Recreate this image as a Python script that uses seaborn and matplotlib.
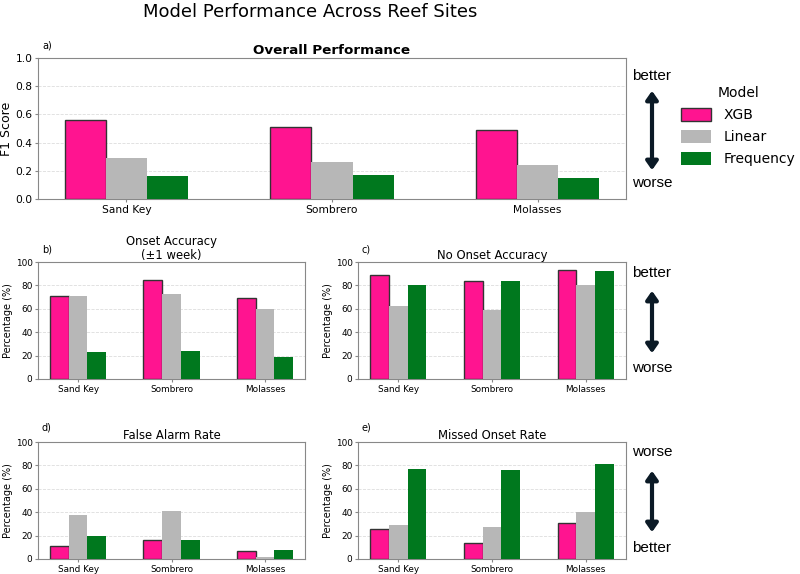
import pandas as pd
import matplotlib.pyplot as plt
import seaborn as sns
from matplotlib.patches import FancyArrowPatch, Patch

# Data
sites = ['Sand Key', 'Sombrero', 'Molasses']
models = ['XGB', 'Linear', 'Frequency']

f1_xgb = [0.56, 0.51, 0.49]
f1_linear = [0.29, 0.26, 0.24]
f1_freq = [0.16, 0.17, 0.15]

onset_xgb = [71, 85, 69]
onset_linear = [71, 73, 60]
onset_freq = [23, 24, 19]

no_onset_xgb = [89, 84, 93]
no_onset_linear = [62, 59, 80]
no_onset_freq = [80, 84, 92]

false_alarm_xgb = [11, 16, 7]
false_alarm_linear = [38, 41, 2]
false_alarm_freq = [20, 16, 8]

missed_xgb = [26, 14, 31]
missed_linear = [29, 27, 40]
missed_freq = [77, 76, 81]

palette = {'XGB': '#ff1490', 'Linear': '#b7b7b7', 'Frequency': '#00781e'}

W, H = 800, 574


def to_long(xgb, linear, freq):
    rows = []
    for name, vals in zip(models, [xgb, linear, freq]):
        for s, v in zip(sites, vals):
            rows.append({'Site': s, 'Model': name, 'Value': v})
    return pd.DataFrame(rows)


fig = plt.figure(figsize=(8, 5.74), dpi=100)


def panel(px, title, label, label_y, ylabel, ylim, ticks, tick_fs, df, bold=False):
    # px = (left, top, right, bottom) in picture pixels
    l, t, r, b = px
    ax = fig.add_axes([l / W, 1 - b / H, (r - l) / W, (b - t) / H])
    sns.barplot(data=df, x='Site', y='Value', hue='Model', palette=palette,
                width=0.6, ax=ax, zorder=3, saturation=1, legend=False)
    # dark outline only on the XGB bars
    for bar in ax.containers[0]:
        bar.set_edgecolor('#333333')
        bar.set_linewidth(1.0)
    ax.set_xlim(-0.43, 2.43)
    ax.set_ylim(*ylim)
    ax.set_yticks(ticks)
    ax.set_xlabel('')
    ax.set_ylabel(ylabel, fontsize=9 if bold else 7, labelpad=2)
    ax.tick_params(labelsize=tick_fs, length=2, pad=2, color='#888888')
    ax.grid(axis='y', linestyle='--', color='#dddddd', linewidth=0.6, zorder=0)
    for sp in ax.spines.values():
        sp.set_color('#888888')
    if bold:
        ax.set_title(title, fontsize=9.7, fontweight='bold', pad=3)
    else:
        ax.set_title(title, fontsize=8.4, pad=2, linespacing=1.1)
    fig.text((l + 4) / W, 1 - label_y / H, label, fontsize=7, va='center')
    return ax


panel((38, 58, 626, 199), 'Overall Performance', 'a)', 45, 'F1 Score', (0, 1),
      [0, 0.2, 0.4, 0.6, 0.8, 1.0], 7.7, to_long(f1_xgb, f1_linear, f1_freq), bold=True)
panel((38, 262, 305, 379), 'Onset Accuracy\n(±1 week)', 'b)', 250, 'Percentage (%)',
      (0, 100), range(0, 101, 20), 6.4, to_long(onset_xgb, onset_linear, onset_freq))
panel((358, 262, 626, 379), 'No Onset Accuracy', 'c)', 250, 'Percentage (%)',
      (0, 100), range(0, 101, 20), 6.4, to_long(no_onset_xgb, no_onset_linear, no_onset_freq))
panel((38, 442, 305, 559), 'False Alarm Rate', 'd)', 428, 'Percentage (%)',
      (0, 100), range(0, 101, 20), 6.4,
      to_long(false_alarm_xgb, false_alarm_linear, false_alarm_freq))
panel((358, 442, 626, 559), 'Missed Onset Rate', 'e)', 428, 'Percentage (%)',
      (0, 100), range(0, 101, 20), 6.4, to_long(missed_xgb, missed_linear, missed_freq))

fig.suptitle('Model Performance Across Reef Sites', fontsize=13, x=310 / W, y=0.995)

# legend
handles = [Patch(facecolor=palette['XGB'], edgecolor='#333333'),
           Patch(facecolor=palette['Linear']),
           Patch(facecolor=palette['Frequency'])]
fig.legend(handles, models, title='Model', loc='upper left',
           bbox_to_anchor=(0.836, 0.872), frameon=False, fontsize=10,
           title_fontsize=10, handlelength=2.15, handleheight=1.1,
           labelspacing=0.55, handletextpad=0.9)


# better / worse arrows
def arrow(x, y_top, y_bot, top_text, bot_text, t_top, t_bot):
    fig.add_artist(FancyArrowPatch((x / W, 1 - y_top / H), (x / W, 1 - y_bot / H),
                                   transform=fig.transFigure,
                                   arrowstyle='<|-|>,head_width=0.35,head_length=0.5',
                                   mutation_scale=10, lw=3, color='#0b1a26'))
    fig.text(x / W, 1 - t_top / H, top_text, ha='center', va='center',
             fontsize=11, family='Liberation Sans')
    fig.text(x / W, 1 - t_bot / H, bot_text, ha='center', va='center',
             fontsize=11, family='Liberation Sans')


arrow(652, 88, 173, 'better', 'worse', 76, 183)
arrow(652, 288, 356, 'better', 'worse', 273, 368)
arrow(652, 468, 535, 'worse', 'better', 452, 548)

plt.savefig('out.png', dpi=100)
